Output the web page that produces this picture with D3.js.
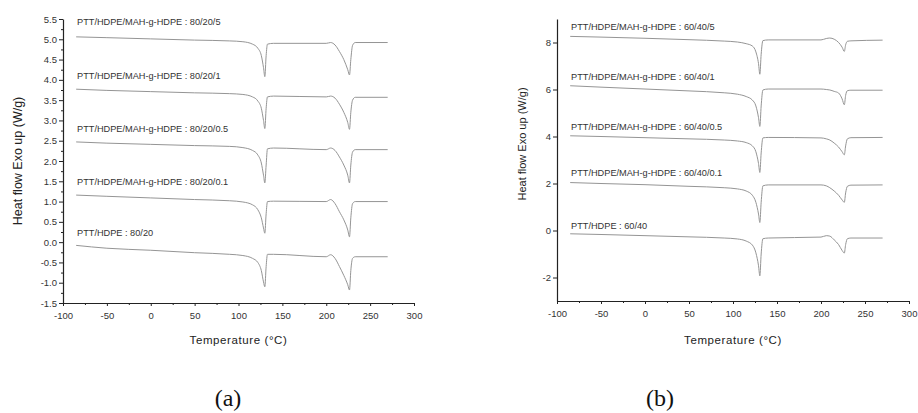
<!DOCTYPE html>
<html>
<head>
<meta charset="utf-8">
<script src="https://cdn.jsdelivr.net/npm/d3@7"></script>
<style>
  body { margin: 0; background: #fff; }
  svg { display: block; }
  .tick text { font-family: "Liberation Sans", Arial, sans-serif; fill: #333; }
  .tick line, .domain { stroke: #222; }
</style>
</head>
<body>
<svg id="chart" width="918" height="413"></svg>
<script>
// temperature grid shared by every curve of a panel (deg C)
const tempsA = [-85, -50, 0, 50, 90, 105, 116, 122, 126, 128.5, 130, 131.5, 133, 140, 200, 205, 210, 215, 220, 224.5, 226.5, 228, 230, 233, 270]
const tempsB = [-85, -50, 0, 50, 90, 105, 115, 122, 126, 129, 130.5, 132, 134, 140, 200, 206, 210, 215, 220, 224, 226.5, 228, 230, 234, 270]

// panel (a) - 80/20 blends, heat flow (W/g)
const labelsA = [
    "PTT/HDPE/MAH-g-HDPE : 80/20/5",
    "PTT/HDPE/MAH-g-HDPE : 80/20/1",
    "PTT/HDPE/MAH-g-HDPE : 80/20/0.5",
    "PTT/HDPE/MAH-g-HDPE : 80/20/0.1",
    "PTT/HDPE : 80/20"
]
const a_5 = [5.06, 5.04, 5.01, 4.98, 4.96, 4.94, 4.88, 4.78, 4.6, 4.3, 4.08, 4.6, 4.88, 4.9, 4.9, 4.92, 4.86, 4.7, 4.5, 4.25, 4.12, 4.5, 4.85, 4.92, 4.92]
const a_1 = [3.77, 3.74, 3.71, 3.68, 3.66, 3.64, 3.58, 3.48, 3.3, 3.0, 2.8, 3.3, 3.58, 3.6, 3.58, 3.6, 3.55, 3.4, 3.2, 2.95, 2.78, 3.2, 3.5, 3.57, 3.57]
const a_05 = [2.47, 2.44, 2.41, 2.38, 2.36, 2.33, 2.26, 2.15, 1.95, 1.65, 1.46, 1.9, 2.3, 2.32, 2.28, 2.32, 2.26, 2.1, 1.9, 1.65, 1.46, 1.9, 2.22, 2.28, 2.28]
const a_01 = [1.16, 1.13, 1.09, 1.05, 1.02, 0.99, 0.92, 0.8, 0.6, 0.35, 0.22, 0.7, 1.0, 1.01, 1.0, 1.05, 0.95, 0.75, 0.55, 0.3, 0.13, 0.6, 0.95, 1.0, 1.0]
const a_0 = [-0.08, -0.15, -0.2, -0.26, -0.3, -0.33, -0.4, -0.5, -0.7, -0.98, -1.1, -0.6, -0.3, -0.3, -0.36, -0.31, -0.4, -0.6, -0.82, -1.05, -1.18, -0.7, -0.4, -0.36, -0.36]

// panel (b) - 60/40 blends
const labelsB = [
    "PTT/HDPE/MAH-g-HDPE : 60/40/5",
    "PTT/HDPE/MAH-g-HDPE : 60/40/1",
    "PTT/HDPE/MAH-g-HDPE : 60/40/0.5",
    "PTT/HDPE/MAH-g-HDPE : 60/40/0.1",
    "PTT/HDPE : 60/40"
]
const b_5 = [8.26, 8.23, 8.18, 8.12, 8.06, 8.02, 7.95, 7.85, 7.6, 7.1, 6.65, 7.5, 8.08, 8.11, 8.11, 8.17, 8.19, 8.14, 8.0, 7.8, 7.62, 7.9, 8.05, 8.07, 8.1]
const b_1 = [6.16, 6.1, 6.02, 5.94, 5.86, 5.8, 5.7, 5.55, 5.3, 4.8, 4.43, 5.3, 5.98, 6.02, 6.02, 6.0, 5.98, 5.92, 5.85, 5.6, 5.35, 5.75, 5.95, 5.97, 5.97]
const b_05 = [4.03, 4.0, 3.95, 3.9, 3.85, 3.81, 3.74, 3.6, 3.35, 2.85, 2.47, 3.3, 3.94, 3.96, 3.94, 3.9, 3.85, 3.72, 3.55, 3.35, 3.22, 3.6, 3.9, 3.95, 3.96]
const b_01 = [2.04, 2.0, 1.95, 1.88, 1.82, 1.77, 1.68, 1.5, 1.2, 0.7, 0.34, 1.2, 1.9, 1.94, 1.94, 1.9, 1.82, 1.68, 1.5, 1.3, 1.2, 1.6, 1.88, 1.93, 1.94]
const b_0 = [-0.14, -0.17, -0.22, -0.27, -0.32, -0.36, -0.45, -0.62, -0.95, -1.5, -1.93, -1.0, -0.35, -0.32, -0.28, -0.22, -0.24, -0.4, -0.6, -0.85, -0.96, -0.6, -0.35, -0.32, -0.32]

// where each curve's label sits (W/g, just above the curve start)
const labelYA = [5.34, 4.02, 2.72, 1.42, 0.14]
const labelYB = [8.55, 6.4, 4.26, 2.34, 0.05]

const xTicks = d3.range(-100, 301, 50)
const yTicksA = d3.range(-1.5, 5.51, 0.5)
const yTicksB = [-2, 0, 2, 4, 6, 8]

const svg = d3.select("#chart")

function drawPanel(opt) {
    const x = d3.scaleLinear().domain([-100, 300]).range([opt.left, opt.right])
    const y = d3.scaleLinear().domain(opt.yDomain).range([opt.bottom, opt.top])

    const g = svg.append("g")

    // x axis with minor ticks
    g.append("g")
        .attr("transform", `translate(0,${opt.bottom})`)
        .call(d3.axisBottom(x).tickValues(d3.range(-75, 300, 50)).tickSize(2).tickFormat(""))
        .call(s => s.select(".domain").remove())
    g.append("g")
        .attr("transform", `translate(0,${opt.bottom})`)
        .call(d3.axisBottom(x).tickValues(xTicks).tickSize(3).tickSizeOuter(0).tickFormat(d => String(d)))
        .call(s => s.selectAll("text").attr("font-size", "9.5px").attr("dy", "1.05em"))

    // y axis
    if (opt.minorY) {
        g.append("g")
            .attr("transform", `translate(${opt.left},0)`)
            .call(d3.axisLeft(y).tickValues(opt.minorY).tickSize(2).tickFormat(""))
            .call(s => s.select(".domain").remove())
    }
    g.append("g")
        .attr("transform", `translate(${opt.left},0)`)
        .call(d3.axisLeft(y).tickValues(opt.yTicks).tickSize(4).tickSizeOuter(0).tickFormat(opt.fmt))
        .call(s => s.selectAll("text").attr("font-size", "9.5px").attr("x", -6))
    g.selectAll(".domain").attr("stroke-width", 1.2)

    const line = d3.line()
        .x(d => x(d[0]))
        .y(d => y(d[1]))
        .curve(d3.curveMonotoneX)

    opt.series.forEach((vals, i) => {
        const pts = opt.temps.map((t, k) => [t, vals[k]])
        g.append("path")
            .datum(pts)
            .attr("fill", "none")
            .attr("stroke", "#959595")
            .attr("stroke-width", 1)
            .attr("d", line)
        g.append("text")
            .attr("x", x(-84))
            .attr("y", y(opt.labelY[i]))
            .attr("font-family", "Liberation Sans, Arial, sans-serif")
            .attr("font-size", "9.2px")
            .attr("fill", "#333")
            .text(opt.labels[i])
    })

    g.append("text")
        .attr("transform", `translate(${opt.titleX},${(opt.top + opt.bottom) / 2 + opt.titleShift}) rotate(-90)`)
        .attr("text-anchor", "middle")
        .attr("font-family", "Liberation Sans, Arial, sans-serif")
        .attr("font-size", opt.titleSize)
        .attr("fill", "#222")
        .text("Heat flow Exo up (W/g)")

    g.append("text")
        .attr("x", (opt.left + opt.right) / 2)
        .attr("y", 344)
        .attr("text-anchor", "middle")
        .attr("font-family", "Liberation Sans, Arial, sans-serif")
        .attr("font-size", "11.5px")
        .attr("letter-spacing", "0.6px")
        .attr("fill", "#222")
        .text("Temperature (°C)")

    svg.append("text")
        .attr("x", opt.captionX)
        .attr("y", 406)
        .attr("text-anchor", "middle")
        .attr("font-family", "Liberation Serif, Times New Roman, serif")
        .attr("font-size", "24px")
        .attr("fill", "#111")
        .text(opt.caption)
}

drawPanel({
    left: 63, right: 414, top: 19, bottom: 303,
    yDomain: [-1.5, 5.5],
    yTicks: yTicksA,
    minorY: d3.range(-1.25, 5.5, 0.5),
    fmt: d => d.toFixed(1),
    temps: tempsA,
    series: [a_5, a_1, a_05, a_01, a_0],
    labels: labelsA,
    labelY: labelYA,
    titleX: 22, titleShift: 0, titleSize: "12.5px",
    caption: "(a)", captionX: 228
})

drawPanel({
    left: 557, right: 909, top: 19, bottom: 301,
    yDomain: [-3, 9],
    yTicks: yTicksB,
    minorY: null,
    fmt: d => String(d),
    temps: tempsB,
    series: [b_5, b_1, b_05, b_01, b_0],
    labels: labelsB,
    labelY: labelYB,
    titleX: 526, titleShift: -16, titleSize: "11px",
    caption: "(b)", captionX: 660
})
</script>
</body>
</html>
